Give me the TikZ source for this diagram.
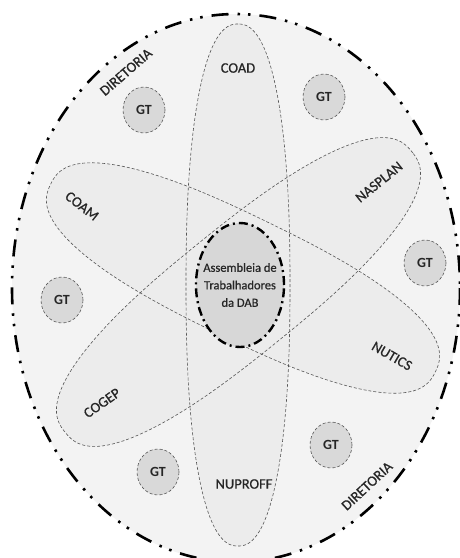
\documentclass[tikz,border=0pt]{standalone}
\usepackage{fontspec}
\setmainfont{Carlito}
\newfontfamily\labelfont{Carlito}[FakeBold=0.7]
\usetikzlibrary{shapes.geometric}
\definecolor{outerfill}{HTML}{F3F3F3}
\definecolor{petalfill}{HTML}{ECECEC}
\definecolor{corefill}{HTML}{D7D7D7}
\definecolor{gtfill}{HTML}{D9D9D9}
\definecolor{linegray}{HTML}{555555}

\begin{document}
\begin{tikzpicture}[x=1pt, y=-1pt,
  declare function={sx(\t,\e)=sign(cos(\t))*abs(cos(\t))^\e; sy(\t,\e)=sign(sin(\t))*abs(sin(\t))^\e;},
  diretoria/.style={line width=2.6pt, dash pattern=on 17pt off 9pt on 2.5pt off 8pt on 2.5pt off 9pt},
  petal/.style={densely dashed, line width=0.6pt, draw=linegray},
  coreellipse/.style={ellipse, draw=black, fill=corefill, line width=2.4pt,
    dash pattern=on 9pt off 4pt on 2pt off 4pt, minimum width=88pt, minimum height=124pt, inner sep=0pt},
  gt/.style={ellipse, draw=linegray, densely dashed, line width=0.6pt, fill=gtfill,
    minimum width=42pt, minimum height=46pt, inner sep=0pt, font=\bfseries\fontsize{14}{14}\selectfont, text=black!85},
  lbl/.style={font=\labelfont\fontsize{14.5}{14.5}\selectfont, text=black!85}]
\useasboundingbox (0,0) rectangle (460,558);

% outer ring
\draw[diretoria, fill=outerfill] (236,288) ellipse [x radius=224, y radius=274];

% petals: fill first, then borders
\foreach \cx/\cy/\ang/\ra/\rb/\ex in {238/285/90/261/52/0.86, 243/278/-26/214/61/0.8, 238.5/292/39/223/63/0.8}
  \fill[petalfill, shift={(\cx,\cy)}, rotate=\ang]
    plot[domain=1:359, samples=180] ({\ra*sx(\x,\ex)}, {\rb*sy(\x,\ex)}) -- cycle;
\foreach \cx/\cy/\ang/\ra/\rb/\ex in {238/285/90/261/52/0.86, 243/278/-26/214/61/0.8, 238.5/292/39/223/63/0.8}
  \draw[petal, shift={(\cx,\cy)}, rotate=\ang]
    plot[domain=1:359, samples=180] ({\ra*sx(\x,\ex)}, {\rb*sy(\x,\ex)}) -- cycle;

% centre
\node[coreellipse] (dab) at (240,285) {};
\node[align=center, font=\labelfont\fontsize{12.5}{17.5}\selectfont, text=black!85] (dabtext) at (dab) {Assembleia de\\Trabalhadores\\da DAB};

% petal labels
\node[lbl] (coad) at (238,68) {COAD};
\node[lbl] (nuproff) at (244,484) {NUPROFF};
\node[lbl, rotate=-38] (coam) at (82,206) {COAM};
\node[lbl, rotate=-30] (nutics) at (392,356) {NUTICS};
\node[lbl, rotate=39] (nasplan) at (379,182) {NASPLAN};
\node[lbl, rotate=35] (cogep) at (102,403) {COGEP};

% diretoria labels
\node[lbl, rotate=41] (dirtop) at (126,72) {DIRETORIA};
\node[lbl, rotate=43] (dirbottom) at (367,486) {DIRETORIA};

% working groups
\node[gt] (gt1) at (144,110) {GT};
\node[gt] (gt2) at (324,97) {GT};
\node[gt] (gt3) at (425,263) {GT};
\node[gt] (gt4) at (62,300) {GT};
\node[gt] (gt5) at (158,472) {GT};
\node[gt] (gt6) at (331,445) {GT};
\end{tikzpicture}
\end{document}
